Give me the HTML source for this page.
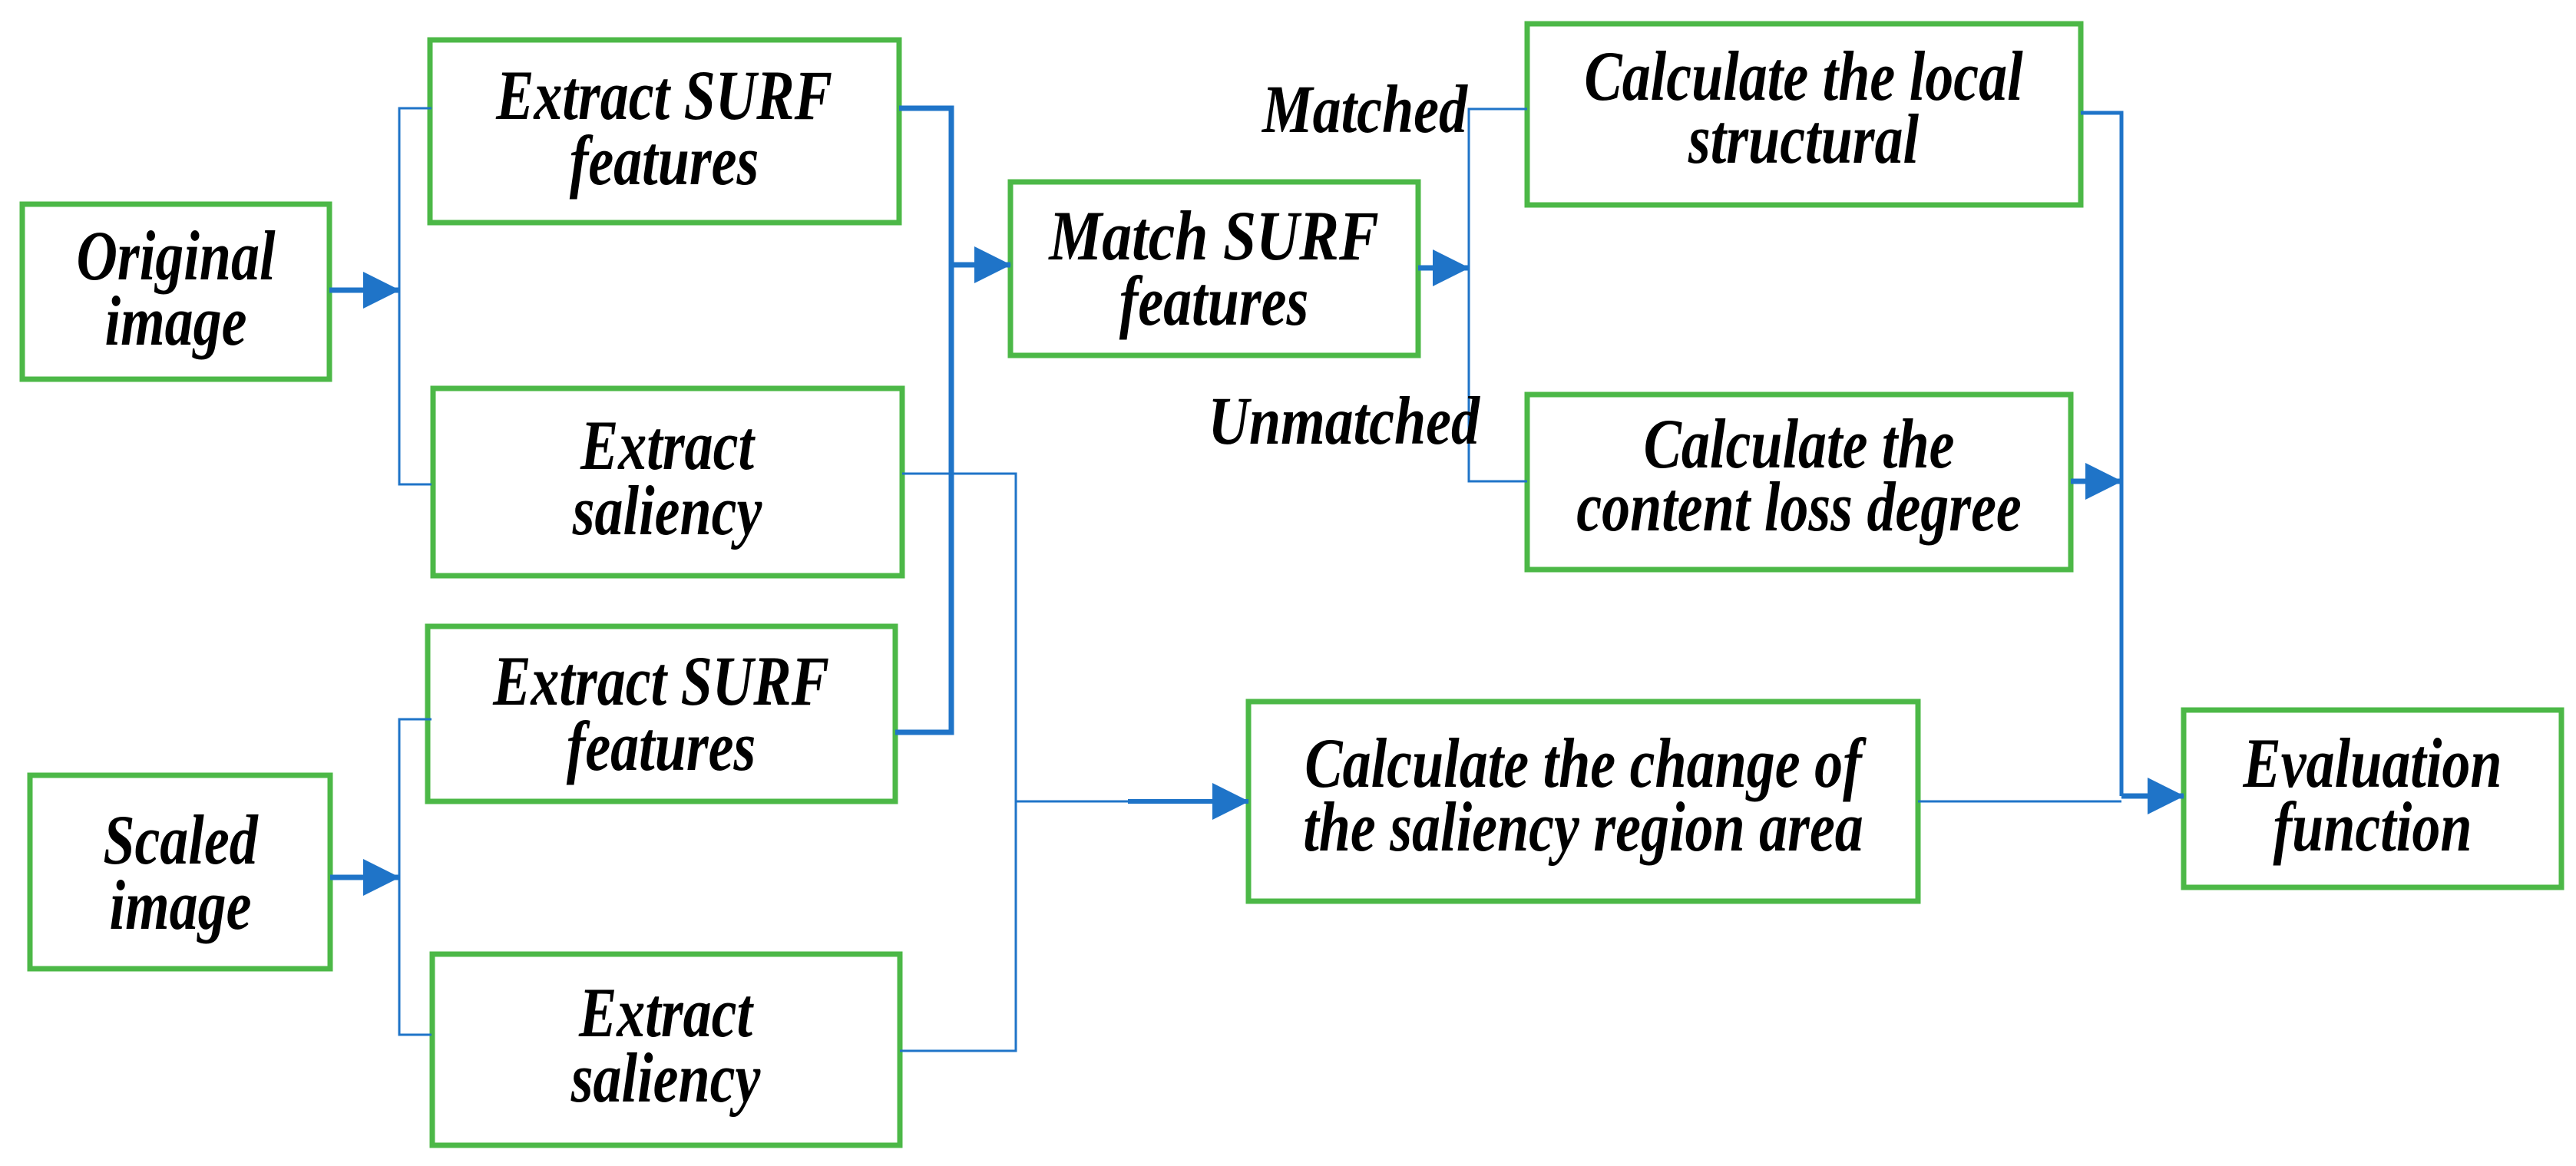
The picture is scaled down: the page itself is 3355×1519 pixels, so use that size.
<!DOCTYPE html>
<html><head><meta charset="utf-8"><style>
html,body{margin:0;padding:0;background:#fff;}
svg{display:block;}
text{font-family:"Liberation Serif",serif;font-weight:bold;font-style:italic;font-size:74px;fill:#000;}
</style></head><body>
<svg width="3355" height="1519" viewBox="0 0 3355 1519" xmlns="http://www.w3.org/2000/svg">
<defs>
<marker id="ah" markerWidth="48" markerHeight="48" refX="47" refY="24" markerUnits="userSpaceOnUse" orient="auto">
<path d="M0,0 L48,24 L0,48 Z" fill="#1f74c8"/>
</marker>
</defs>
<g fill="none" stroke="#4cb847" stroke-width="7">
<rect x="29" y="266" width="400" height="228"/>
<rect x="39" y="1010" width="391" height="252"/>
<rect x="560" y="52" width="611" height="238"/>
<rect x="564" y="506" width="611" height="244"/>
<rect x="557" y="816" width="609" height="228"/>
<rect x="563" y="1243" width="609" height="249"/>
<rect x="1316" y="237" width="531" height="226"/>
<rect x="1989" y="31" width="721" height="236"/>
<rect x="1989" y="514" width="708" height="228"/>
<rect x="1626" y="914" width="872" height="260"/>
<rect x="2844" y="925" width="492" height="231"/>
</g>
<g fill="none" stroke="#1f74c8">
<path d="M562,141 H520 V631 H562" stroke-width="3"/>
<path d="M562,937 H520 V1348 H562" stroke-width="3"/>
<line x1="429" y1="378" x2="520" y2="378" stroke-width="7" marker-end="url(#ah)"/>
<line x1="430" y1="1143" x2="520" y2="1143" stroke-width="7" marker-end="url(#ah)"/>
<path d="M1171,141 H1239 V954 H1166" stroke-width="7"/>
<line x1="1239" y1="345" x2="1316" y2="345" stroke-width="7" marker-end="url(#ah)"/>
<path d="M1175,617 H1323 V1369 H1172" stroke-width="3"/>
<line x1="1323" y1="1044" x2="1470" y2="1044" stroke-width="3"/>
<line x1="1469" y1="1044" x2="1626" y2="1044" stroke-width="6" marker-end="url(#ah)"/>
<path d="M1989,142 H1913 V627 H1989" stroke-width="3"/>
<line x1="1847" y1="349" x2="1913" y2="349" stroke-width="7" marker-end="url(#ah)"/>
<path d="M2710,147 H2763 V1037" stroke-width="5"/>
<line x1="2697" y1="627" x2="2763" y2="627" stroke-width="7" marker-end="url(#ah)"/>
<line x1="2498" y1="1044" x2="2763" y2="1044" stroke-width="3"/>
<line x1="2763" y1="1037" x2="2844" y2="1037" stroke-width="7" marker-end="url(#ah)"/>
</g>
<g text-anchor="middle">
<text transform="translate(229,364) scale(1,1.25)">Original</text><text transform="translate(229,449) scale(1,1.25)">image</text>
<text transform="translate(235,1125) scale(1,1.25)">Scaled</text><text transform="translate(235,1210) scale(1,1.25)">image</text>
<text transform="translate(865,155) scale(1,1.25)">Extract SURF</text><text transform="translate(865,240) scale(1,1.25)">features</text>
<text transform="translate(869,611) scale(1,1.25)">Extract</text><text transform="translate(869,696) scale(1,1.25)">saliency</text>
<text transform="translate(861,918) scale(1,1.25)">Extract SURF</text><text transform="translate(861,1003) scale(1,1.25)">features</text>
<text transform="translate(867,1350) scale(1,1.25)">Extract</text><text transform="translate(867,1435) scale(1,1.25)">saliency</text>
<text transform="translate(1581,338) scale(1.05,1.25)">Match SURF</text><text transform="translate(1581,423) scale(1,1.25)">features</text>
<text transform="translate(2349,130) scale(1,1.25)">Calculate the local</text><text transform="translate(2349,212) scale(1,1.25)">structural</text>
<text transform="translate(2343,609) scale(1,1.25)">Calculate the</text><text transform="translate(2343,691) scale(1,1.25)">content loss degree</text>
<text transform="translate(2062,1025) scale(1,1.25)">Calculate the change of</text><text transform="translate(2062,1108) scale(1,1.25)">the saliency region area</text>
<text transform="translate(3090,1025) scale(1,1.25)">Evaluation</text><text transform="translate(3090,1108) scale(1,1.25)">function</text>
</g>
<g text-anchor="end">
<text transform="translate(1911,172) scale(1,1.2)">Matched</text>
<text transform="translate(1927,578) scale(1,1.2)">Unmatched</text>
</g>
</svg>
</body></html>
